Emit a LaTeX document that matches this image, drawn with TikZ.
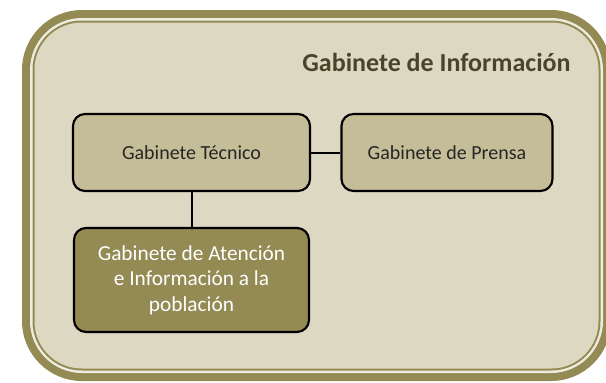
\documentclass[tikz,border=0pt]{standalone}
\usepackage{fontspec}
\setmainfont{Carlito}
\usetikzlibrary{shapes}
\definecolor{marco}{HTML}{948A54}
\definecolor{fondo}{HTML}{DDD8C2}
\definecolor{claro}{HTML}{C4BD97}
\definecolor{oscuro}{HTML}{4A452A}
\tikzstyle{block} =
        [
                rectangle,
                draw,
                line width = 1.6pt,
                fill = claro,
                text = black!85,
                font = \fontsize{15}{18}\selectfont,
                align = center,
                rounded corners = 9pt,
                minimum height = 57.75pt
        ]
\tikzstyle{dark} =
        [
                block,
                fill = marco,
                text = white,
                font = \fontsize{16}{19.2}\selectfont,
                minimum height = 78pt
        ]
\tikzstyle{title} =
        [
                font = \fontsize{19.5}{23}\selectfont\bfseries,
                text = oscuro
        ]
\tikzstyle{line} =
        [
                draw,
                line width = 1.5pt
        ]

\begin{document}
\begin{tikzpicture}[x = 0.75pt, y = -0.75pt, node distance = 2cm, auto]
        \useasboundingbox (0,0) rectangle (606,382);
        % marco doble
        \begin{scope}
                \clip (0,0) rectangle (606,382);
                \fill [marco, rounded corners = 45pt] (22,10) rectangle (611,381);
                \fill [fondo!50!white, rounded corners = 39pt] (30,18) rectangle (603,373);
                \fill [marco, rounded corners = 37pt] (32.5,20.5) rectangle (600.5,370.5);
                \fill [fondo, rounded corners = 35.5pt] (34.5,22.5) rectangle (598.5,368.5);
        \end{scope}

        \node [title] (titulo) at (436.5,62) {Gabinete de Información};
        \node [block, minimum width = 177.75pt] (tecnico) at (191.5,152.5) {Gabinete Técnico};
        \node [block, right of = tecnico, node distance = 191.6pt, minimum width = 158.25pt] (prensa) {Gabinete de Prensa};
        \node [dark, below of = tecnico, node distance = 95.6pt, minimum width = 176.25pt] (atencion) {Gabinete de Atención\\ e Información a la\\ población};

        \path [line] (tecnico) -- (prensa);
        \path [line] (tecnico) -- (atencion);
\end{tikzpicture}
\end{document}
